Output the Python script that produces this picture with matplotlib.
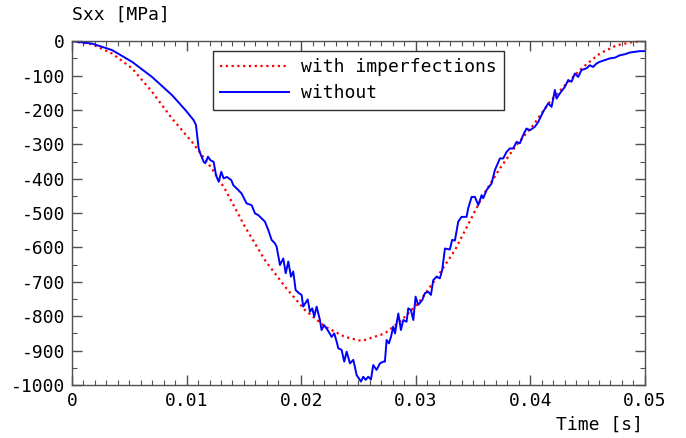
#!/usr/bin/env python3
"""Stress history Sxx at the probe point, with and without imperfections."""

import matplotlib
matplotlib.use("Agg")
import matplotlib.pyplot as plt
from matplotlib.ticker import FuncFormatter, MultipleLocator

# with imperfections (smooth response)
t_imp = [0.0, 0.00175, 0.0035, 0.00524, 0.00698, 0.00873, 0.01047, 0.0122, 0.01335,
         0.0151, 0.01684, 0.01859, 0.02033, 0.02208, 0.02382, 0.02528, 0.02731,
         0.02877, 0.03022, 0.03168, 0.03342, 0.03589, 0.03735, 0.0388, 0.04026,
         0.04171, 0.04317, 0.04462, 0.04607, 0.04753, 0.04898, 0.05]
s_imp = [0, -9, -36, -79, -147, -225, -293, -370, -430,
         -540, -637, -714, -782, -830, -860, -872, -850,
         -811, -762, -695, -608, -448, -370, -302, -244,
         -176, -123, -75, -36, -12, -2, 0]

# without imperfections (buckling jump, then noisy response)
t_perf = [0.0, 0.00175, 0.0035, 0.00524, 0.00698, 0.00873, 0.00989, 0.01062, 0.01082,
          0.01105, 0.0112, 0.01149, 0.01163, 0.01187, 0.01207, 0.01236, 0.01257, 0.0128,
          0.01303, 0.01323, 0.01352, 0.0139, 0.01408, 0.01451, 0.01480, 0.01524, 0.01568,
          0.01597, 0.01626, 0.01684, 0.01713, 0.01742, 0.01771, 0.01786, 0.01815, 0.01844,
          0.01865, 0.01888, 0.01911, 0.01931, 0.01952, 0.01981, 0.02004, 0.02018, 0.02057,
          0.02077, 0.02097, 0.02114, 0.02135, 0.02164, 0.02178, 0.02201, 0.02231, 0.02266,
          0.02289, 0.0231, 0.02324, 0.02353, 0.02376, 0.02397, 0.02426, 0.02455, 0.02469,
          0.02484, 0.02522, 0.02542, 0.02563, 0.02586, 0.02609, 0.02629, 0.02658, 0.02688,
          0.02717, 0.02731, 0.02746, 0.02766, 0.02784, 0.02804, 0.02819, 0.02848, 0.02871,
          0.02891, 0.02920, 0.02935, 0.02958, 0.02979, 0.02999, 0.03022, 0.03057, 0.03080,
          0.03109, 0.03133, 0.03153, 0.03182, 0.03211, 0.03231, 0.03255, 0.03298, 0.03318,
          0.03342, 0.03371, 0.03400, 0.03444, 0.03458, 0.03488, 0.03517, 0.03546, 0.03575,
          0.03589, 0.03619, 0.03662, 0.03691, 0.03735, 0.03764, 0.03793, 0.03822, 0.03851,
          0.0388, 0.03909, 0.03938, 0.03967, 0.03997, 0.04040, 0.04069, 0.04113, 0.04156,
          0.04186, 0.04215, 0.04229, 0.04258, 0.04302, 0.04331, 0.04360, 0.04389, 0.04418,
          0.04447, 0.04491, 0.04520, 0.04549, 0.04578, 0.04607, 0.04651, 0.04695, 0.04738,
          0.04782, 0.04826, 0.04869, 0.04913, 0.04956, 0.05]
s_perf = [0, -7, -26, -60, -104, -157, -200, -230, -244,
          -312, -327, -351, -355, -336, -346, -351, -390, -409,
          -380, -399, -395, -404, -419, -433, -443, -472, -477,
          -501, -506, -525, -549, -578, -588, -598, -651, -632,
          -675, -641, -685, -670, -724, -733, -738, -772, -751,
          -787, -777, -801, -772, -811, -840, -826, -840, -860,
          -850, -874, -893, -898, -932, -903, -937, -927, -947,
          -971, -990, -976, -985, -976, -984, -942, -956, -937,
          -932, -932, -869, -879, -860, -830, -850, -792, -840,
          -811, -816, -777, -782, -811, -743, -767, -753, -733,
          -729, -738, -695, -685, -690, -666, -603, -606, -578,
          -580, -525, -511, -511, -486, -453, -453, -477, -448,
          -457, -433, -414, -375, -341, -341, -322, -312, -312,
          -293, -297, -273, -254, -259, -249, -235, -205, -181,
          -191, -142, -167, -152, -133, -113, -118, -94, -104,
          -84, -79, -70, -75, -65, -60, -55, -50, -48,
          -41, -38, -33, -31, -29, -29]

x_ticks = [0, 0.01, 0.02, 0.03, 0.04, 0.05]
y_ticks = [0, -100, -200, -300, -400, -500, -600, -700, -800, -900, -1000]

plt.rcParams["font.family"] = ["DejaVu Sans Mono"]
plt.rcParams["axes.unicode_minus"] = False

fig = plt.figure(figsize=(6.86, 4.38), dpi=100)
ax = fig.add_axes([0.105, 0.121, 0.835, 0.785])

ax.plot(t_imp, s_imp, color="#ff0000", linestyle=(0, (1.0, 1.6)), linewidth=1.6,
        label="with imperfections")
ax.plot(t_perf, s_perf, color="#0000ff", linewidth=1.4, label="without")

ax.set_xlim(0, 0.05)
ax.set_ylim(-1000, 0)
ax.set_xticks(x_ticks)
ax.set_yticks(y_ticks)
ax.xaxis.set_major_formatter(FuncFormatter(lambda v, _: f"{v:g}"))
ax.yaxis.set_major_formatter(FuncFormatter(lambda v, _: f"{v:g}"))
ax.xaxis.set_minor_locator(MultipleLocator(0.001))
ax.yaxis.set_minor_locator(MultipleLocator(50))

frame = "#505050"
for sp in ax.spines.values():
    sp.set_color(frame)
    sp.set_linewidth(1.0)
ax.tick_params(which="both", direction="in", top=True, right=True, color=frame,
               labelsize=13, labelcolor="black")
ax.tick_params(which="major", length=7, width=1.0, pad=5)
ax.tick_params(which="minor", length=3.5, width=0.8)

fig.text(72 / 686, 1 - 15 / 438, "Sxx [MPa]", fontsize=13, ha="left", va="center")
fig.text(643 / 686, 1 - 425 / 438, "Time [s]", fontsize=13, ha="right", va="center")

leg = ax.legend(loc="upper left", bbox_to_anchor=(213 / 686, 1 - 51 / 438),
                bbox_transform=fig.transFigure, borderaxespad=0, fontsize=13,
                handlelength=3.8, handletextpad=0.7, borderpad=0.4,
                labelspacing=0.45, fancybox=False, framealpha=1)
leg.get_frame().set_edgecolor("#303030")
leg.get_frame().set_linewidth(1.0)

fig.savefig("out.png", dpi=100)
